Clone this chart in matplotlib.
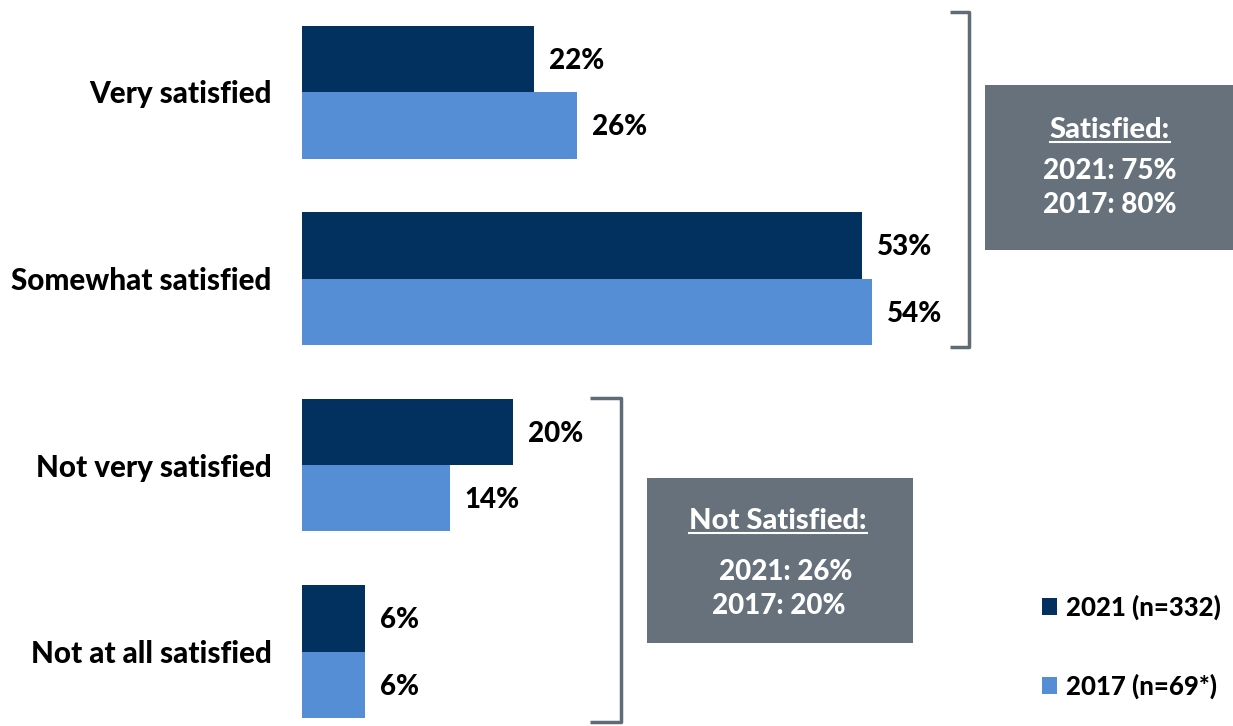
import matplotlib
matplotlib.use("Agg")
import matplotlib.pyplot as plt
from matplotlib.patches import Rectangle
from matplotlib.lines import Line2D

categories = ["Very satisfied", "Somewhat satisfied", "Not very satisfied", "Not at all satisfied"]
values_2021 = [22, 53, 20, 6]
values_2017 = [26, 54, 14, 6]
legend_labels = ["2021 (n=332)", "2017 (n=69*)"]
sat_title = "Satisfied:"
sat_lines = ["2021: 75%", "2017: 80%"]
notsat_title = "Not Satisfied:"
notsat_lines = ["2021: 26%", "2017: 20%"]

DARK = "#03315f"
LIGHT = "#558ed5"
GRAY = "#66717b"
FONT = "Lato"
WEIGHT = "black"

W, H = 1233, 726
fig = plt.figure(figsize=(W / 100, H / 100), dpi=100)
fig.patch.set_facecolor("white")

px_per_pct = 10.56
left_px = 302
ax = fig.add_axes([left_px / W, 0, 1 - left_px / W, 1])
ax.set_xlim(0, (W - left_px) / px_per_pct)
spacing = 186.5
top_c = 92
ax.set_ylim((H - top_c) / spacing, -top_c / spacing)
bh = 66.5 / spacing

ys = list(range(len(categories)))
ax.barh([y - bh / 2 for y in ys], values_2021, height=bh, color=DARK)
ax.barh([y + bh / 2 for y in ys], values_2017, height=bh, color=LIGHT)

for y, v in zip(ys, values_2021):
    ax.text(v + 15 / px_per_pct, y - bh / 2 + 2 / spacing, f"{v}%", va="center", ha="left",
            fontsize=20, fontweight=WEIGHT, family=FONT, color="black")
for y, v in zip(ys, values_2017):
    ax.text(v + 15 / px_per_pct, y + bh / 2 + 2 / spacing, f"{v}%", va="center", ha="left",
            fontsize=20, fontweight=WEIGHT, family=FONT, color="black")

ax.set_yticks(ys)
ax.set_yticklabels(categories, fontsize=21.3, fontweight=WEIGHT, family=FONT)
ax.tick_params(axis="y", length=0, pad=22)
ax.set_xticks([])
for s in ax.spines.values():
    s.set_visible(False)
ax.patch.set_alpha(0)


def fx(px):
    return px / W


def fy(py):
    return 1 - py / H


def bracket(x_left, x_right, y_top, y_bot):
    xs = [fx(x_left), fx(x_right), fx(x_right), fx(x_left)]
    yv = [fy(y_top), fy(y_top), fy(y_bot), fy(y_bot)]
    fig.add_artist(Line2D(xs, yv, transform=fig.transFigure, color="#5f6b75",
                          lw=2.5, solid_joinstyle="round", solid_capstyle="butt"))


bracket(950, 969, 12, 347)
bracket(590, 621, 398, 722)


def box(x0, y0, x1, y1, title, lines, cx_title, cx_lines, y_title, y_lines):
    fig.add_artist(Rectangle((fx(x0), fy(y1)), fx(x1) - fx(x0), fy(y0) - fy(y1),
                             transform=fig.transFigure, facecolor=GRAY, edgecolor="none"))
    t = fig.text(fx(cx_title), fy(y_title), title, ha="center", va="center", color="white",
                 fontsize=21, fontweight=WEIGHT, family=FONT)
    for cx, yy, s in zip(cx_lines, y_lines, lines):
        fig.text(fx(cx), fy(yy), s, ha="center", va="center", color="white",
                 fontsize=20, fontweight=WEIGHT, family=FONT)
    return t


t1 = box(985, 85, W, 250, sat_title, sat_lines, 1110, [1110, 1110], 130, [171, 205])
t2 = box(647, 478, 913, 643, notsat_title, notsat_lines, 778, [786, 779], 521, [572, 606])

# legend
leg_y = [607, 686]
for col, lab, yy in zip([DARK, LIGHT], legend_labels, leg_y):
    fig.add_artist(Rectangle((fx(1042), fy(yy + 8)), fx(15), 17 / H, transform=fig.transFigure,
                             facecolor=col, edgecolor="none"))
    fig.text(fx(1066), fy(yy), lab, ha="left", va="center", fontsize=18.5, fontweight=WEIGHT,
             family=FONT, color="black")

fig.canvas.draw()
r = fig.canvas.get_renderer()
for t in (t1, t2):
    bb = t.get_window_extent(r)
    x0, x1 = bb.x0 / W, bb.x1 / W
    yline = (bb.y0 + 1) / H
    fig.add_artist(Line2D([x0, x1], [yline, yline], transform=fig.transFigure,
                          color="white", lw=1.5))

fig.savefig("out.png", dpi=100, facecolor="white")
